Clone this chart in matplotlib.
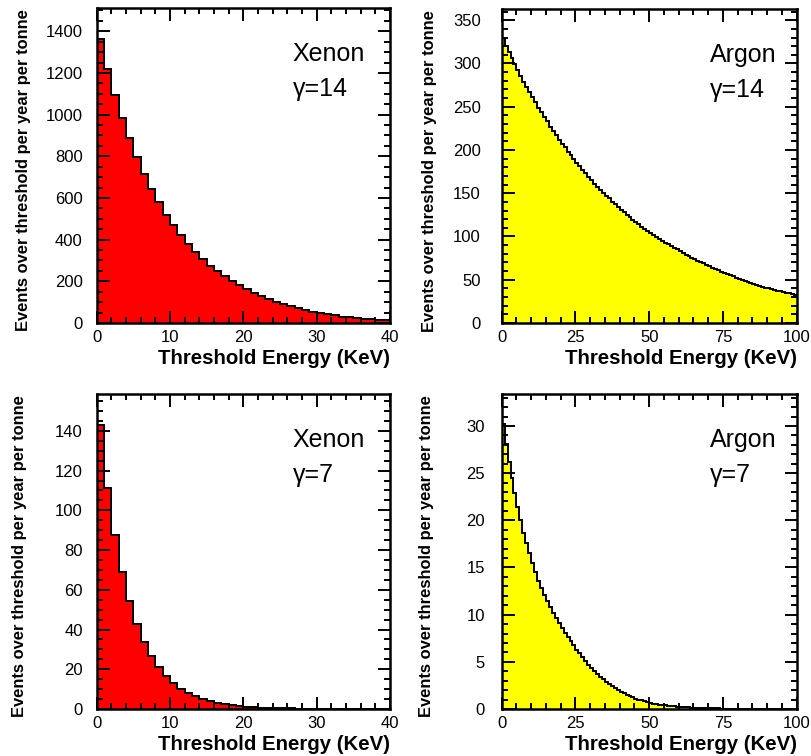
import numpy as np
import matplotlib
matplotlib.use("Agg")
import matplotlib.pyplot as plt
from matplotlib.ticker import MultipleLocator

plt.rcParams['font.family'] = ['Liberation Sans', 'DejaVu Sans']

# ---------------- data ----------------
xenon_edges = np.arange(0, 41, 1)
argon_edges = np.arange(0, 101, 1)

xenon_g14 = [1363, 1221, 1096, 986, 886, 797, 717, 645, 582, 520,
             469, 422, 381, 341, 309, 275, 248, 224, 200, 181,
             162, 144, 130, 115, 102, 91, 80, 70, 62, 54,
             48, 42, 36, 31, 27, 23, 20, 17, 15, 13]

argon_g14 = [329, 320, 313, 306, 299, 292, 286, 279, 273, 267,
             261, 255, 249, 244, 238, 233, 227, 222, 217, 212,
             207, 203, 198, 194, 189, 185, 181, 177, 173, 169,
             165, 161, 157, 154, 150, 147, 144, 140, 137, 134,
             131, 128, 125, 122, 119, 117, 114, 111, 109, 106,
             104, 102, 99, 97, 95, 93, 91, 89, 87, 85,
             83, 81, 79, 77, 75.5, 74, 72, 70.5, 69, 67,
             65.5, 64, 62.5, 61, 59.5, 58, 56.5, 55, 54, 52.5,
             51, 50, 48.8, 47.5, 46.5, 45.3, 44.2, 43, 42, 41,
             40, 39.2, 38.3, 37.5, 36.6, 35.8, 35, 34.2, 33.4, 32.6]

xenon_g7 = [143, 111.5, 87.5, 68.8, 54.4, 42.6, 33.6, 26.7, 21.2, 16.6,
            12.9, 10.2, 8.1, 6.4, 4.9, 3.9, 3.0, 2.3, 1.8, 1.5,
            1.2, 0.9, 0.7, 0.55, 0.43, 0.33, 0.26, 0.2, 0.15, 0.12,
            0.09, 0.07, 0.055, 0.043, 0.033, 0.026, 0.02, 0.015, 0.012, 0.009]

argon_g7 = [30.2, 28.1, 26.2, 24.5, 22.9, 21.4, 20.0, 18.7, 17.6, 16.5,
            15.5, 14.5, 13.6, 12.8, 12.1, 11.4, 10.8, 10.2, 9.6, 9.1,
            8.6, 8.1, 7.6, 7.2, 6.8, 6.3, 5.9, 5.5, 5.1, 4.7,
            4.35, 4.0, 3.7, 3.4, 3.15, 2.9, 2.65, 2.45, 2.25, 2.05,
            1.8, 1.65, 1.5, 1.36, 1.23, 1.1, 1.0, 0.9, 0.8, 0.72,
            0.65, 0.58, 0.52, 0.47, 0.42, 0.38, 0.34, 0.30, 0.27, 0.24,
            0.22, 0.20, 0.18, 0.16, 0.145, 0.13, 0.117, 0.105, 0.094, 0.084,
            0.075, 0.067, 0.060, 0.054, 0.048, 0.043, 0.038, 0.034, 0.030, 0.027,
            0.024, 0.021, 0.019, 0.017, 0.015, 0.013, 0.012, 0.011, 0.0095, 0.0085,
            0.0075, 0.0067, 0.006, 0.0053, 0.0047, 0.0042, 0.0037, 0.0033, 0.003, 0.0027]

xlabel = "Threshold Energy (KeV)"
ylabel = "Events over threshold per year per tonne"

panels = [
    # (rect, edges, values, color, xlim, ylim, xmaj, xmin, ymaj, ymin, name, gamma, ypad, ylabx)
    ([0.1192, 0.5728, 0.3617, 0.4167], xenon_edges, xenon_g14, '#ff0000', 40, 1512, 10, 2, 200, 50, "Xenon", "\u03b3=14", 10, -0.251),
    ([0.6186, 0.5728, 0.3637, 0.4153], argon_edges, argon_g14, '#ffff00', 100, 363, 25, 5, 50, 10, "Argon", "\u03b3=14", 15, -0.245),
    ([0.1192, 0.0622, 0.3617, 0.4167], xenon_edges, xenon_g7, '#ff0000', 40, 158.6, 10, 2, 20, 5, "Xenon", "\u03b3=7", 10, -0.2615),
    ([0.6186, 0.0622, 0.3637, 0.4167], argon_edges, argon_g7, '#ffff00', 100, 33.4, 25, 5, 5, 1, "Argon", "\u03b3=7", 12, -0.255),
]

fig = plt.figure(figsize=(8.11, 7.56), dpi=100)

for (rect, edges, vals, col, xmax, ymax, xmaj, xmin, ymaj, ymin, name, gam, ypad, ylabx) in panels:
    ax = fig.add_axes(rect)
    ax.stairs(vals, edges, fill=True, color=col, lw=0)
    ax.stairs(vals, edges, color='black', lw=1.4, baseline=None)
    ax.set_xlim(0, xmax)
    ax.set_ylim(0, ymax)
    ax.xaxis.set_major_locator(MultipleLocator(xmaj))
    ax.xaxis.set_minor_locator(MultipleLocator(xmin))
    ax.yaxis.set_major_locator(MultipleLocator(ymaj))
    ax.yaxis.set_minor_locator(MultipleLocator(ymin))
    ax.tick_params(which='both', direction='in', top=True, right=True, width=1.4, color='black')
    ax.tick_params(which='major', length=9)
    ax.tick_params(which='minor', length=4.5)
    ax.tick_params(axis='x', which='major', labelsize=12, pad=5)
    ax.tick_params(axis='y', which='major', labelsize=12, pad=ypad)
    for sp in ax.spines.values():
        sp.set_linewidth(1.8)
    left = rect[0] < 0.5
    xtxt = 0.669 if left else 0.706
    ax.text(xtxt, 0.853, name, transform=ax.transAxes, fontsize=18, va='center', ha='left')
    ax.text(xtxt, 0.742, gam, transform=ax.transAxes, fontsize=18, va='center', ha='left')
    ax.set_xlabel(xlabel, fontsize=14.7, fontweight='bold', loc='right', labelpad=3)
    ax.set_ylabel(ylabel, fontsize=11.9, fontweight='bold', va='center')
    ax.yaxis.set_label_coords(ylabx, 0.485)

fig.savefig("out.png", dpi=100)
